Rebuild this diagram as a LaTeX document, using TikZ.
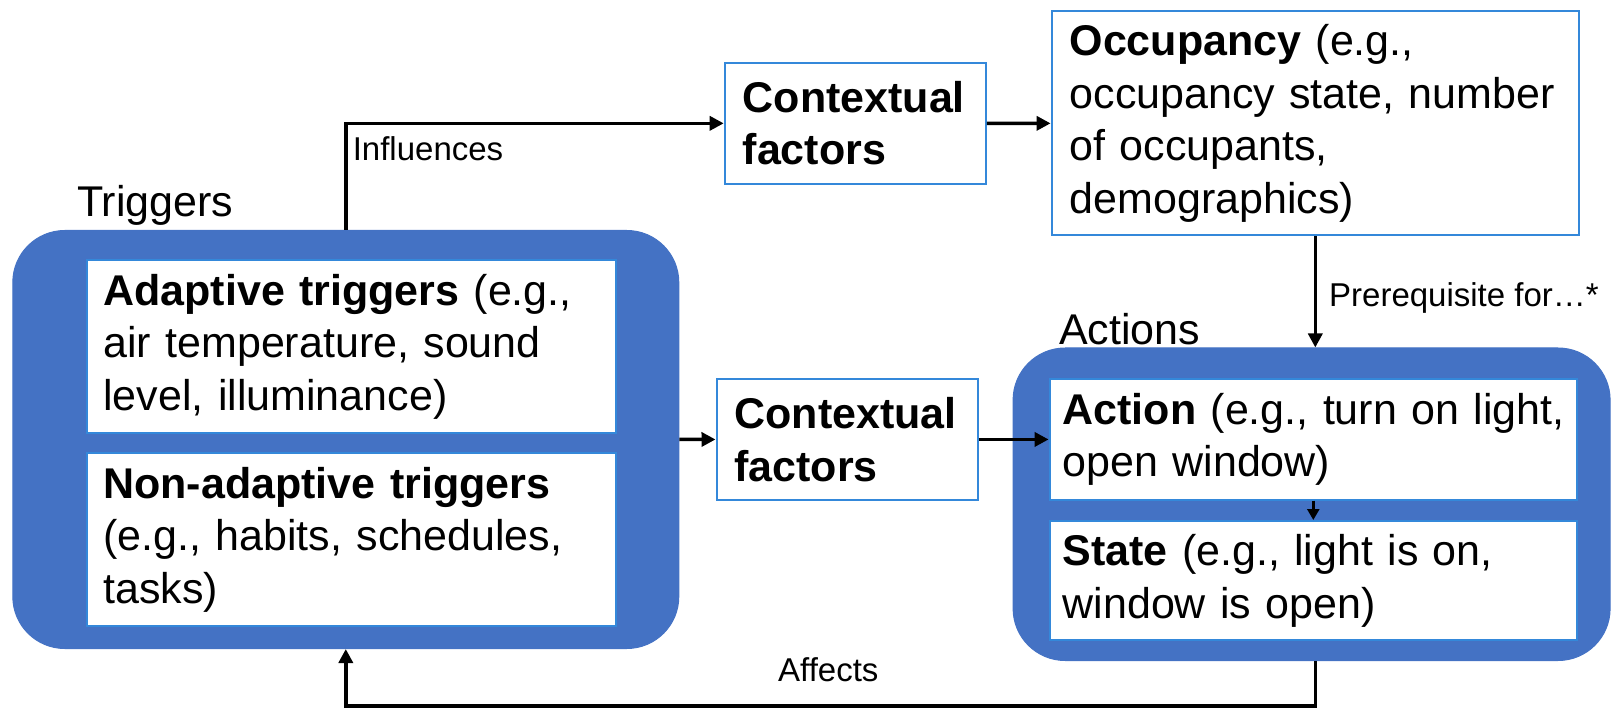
\documentclass[tikz,border=0pt]{standalone}
\usepackage{fontspec}
\setmainfont{Liberation Sans}
\usetikzlibrary{arrows.meta}

\definecolor{groupblue}{RGB}{68,114,196}
\definecolor{edgeblue}{RGB}{52,136,218}

\newcommand\diagbody{\fontsize{43}{52.5}\selectfont}
\newcommand\diaglabel{\fontsize{33}{40}\selectfont}

\begin{document}
\begin{tikzpicture}[x=1pt,y=-1pt,
  group/.style={fill=groupblue,draw=groupblue,line width=1pt,
    rounded corners=52pt,anchor=north west,inner sep=0pt},
  card/.style={draw=edgeblue,fill=white,line width=2pt,anchor=north west,
    inner xsep=16pt,inner ysep=0pt,align=left,font=\diagbody},
  title/.style={anchor=west,inner sep=0pt,font=\diagbody},
  note/.style={anchor=west,inner sep=0pt,font=\diaglabel},
  conn/.style={line width=3.5pt,-{Triangle[length=14pt,width=14pt]}}]

\useasboundingbox (0,0) rectangle (1612,708);

% grouping panels
\node[group,minimum width=666,minimum height=418] (trig) at (12.3,230) {};
\node[group,minimum width=597,minimum height=312.5] (actgrp) at (1012.6,347.5) {};

% group titles
\node[title] (trigtitle) at (77,205.6) {Triggers};
\node[title] (acttitle) at (1059,329) {Actions};

% trigger cards
\node[card,minimum width=528.3,minimum height=172.8,text width=496.3] (adapt) at (86.4,259)
  {\textbf{Adaptive triggers} (e.g.,\\air temperature, sound\\level, illuminance)};
\node[card,minimum width=528.3,minimum height=172.7,text width=496.3] (nonad) at (86.4,452.3)
  {\textbf{Non-adaptive triggers}\\(e.g., habits, schedules,\\tasks)};

% contextual factors
\node[card,inner xsep=18pt,minimum width=261.1,minimum height=121.3,text width=225.1] (ctxtop) at (723.7,61.7)
  {\textbf{Contextual}\\\textbf{factors}};
\node[card,inner xsep=18pt,minimum width=261.1,minimum height=120.3,text width=225.1] (ctxmid) at (715.5,378.3)
  {\textbf{Contextual}\\\textbf{factors}};

% occupancy
\node[card,inner xsep=18pt,minimum width=527.4,minimum height=224.1,text width=491.4] (occ) at (1050.6,10.3)
  {\textbf{Occupancy} (e.g.,\\occupancy state, number\\of occupants,\\demographics)};

% action cards
\node[card,inner xsep=13pt,minimum width=527.4,minimum height=120.3,text width=501.4] (action) at (1048.6,378.3)
  {\mbox{\textbf{Action} (e.g., turn on light,}\\open window)};
\node[card,inner xsep=13pt,minimum width=527.4,minimum height=119.4,text width=501.4] (state) at (1048.6,520)
  {\textbf{State} (e.g., light is on,\\window is open)};

% connectors
\draw[conn] (trig.north) |- (ctxtop.west);
\draw[conn] (ctxtop.east) -- (occ.west);
\draw[conn] (occ.south) -- (occ.south |- actgrp.north);
\draw[conn] (trig.east) -- (ctxmid.west);
\draw[conn] (ctxmid.east) -- (ctxmid.east -| action.west);
\draw[line width=2.5pt,-{Triangle[length=11pt,width=12pt]}] (action.south) -- (state.north);
\draw[conn] (occ.south |- actgrp.south) -- ++(0,45) -| (trig.south);

% connector labels
\node[note] (influences) at (352.6,149) {Influences};
\node[note] (prereq) at (1329,298) {Prerequisite for…*};
\node[note] (affects) at (778,670) {Affects};

\end{tikzpicture}
\end{document}
